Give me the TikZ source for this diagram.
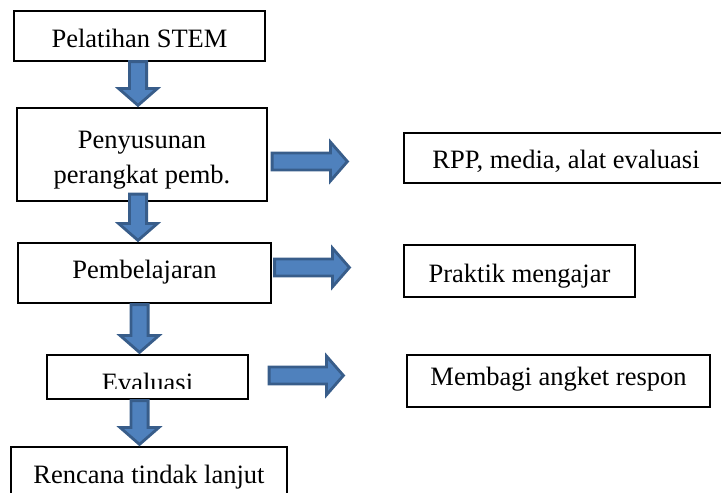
\documentclass[tikz,border=0pt]{standalone}
\usepackage{fontspec}
\setmainfont{Liberation Serif}
\usetikzlibrary{calc}
\definecolor{arrowfill}{HTML}{4F81BD}
\definecolor{arrowline}{HTML}{385D8A}

\begin{document}
\begin{tikzpicture}[x=1pt, y=-1pt,
    every node/.style={font=\fontsize{26.5pt}{35pt}\selectfont},
    box/.style={draw, line width=1.2pt, inner sep=0pt, anchor=base},
    blockdown/.style={fill=arrowfill, draw=arrowline, line width=2.8pt, to path={
        let \p1=(\tikztostart), \p2=(\tikztotarget) in
        (\x1-8.6pt,\y1) -- (\x1+8.6pt,\y1) -- (\x1+8.6pt,\y2+19pt) -- (\x1+19.5pt,\y2+19pt)
        -- (\x1,\y2+2pt) -- (\x1-19.5pt,\y2+19pt) -- (\x1-8.6pt,\y2+19pt) -- cycle}},
    blockright/.style={fill=arrowfill, draw=arrowline, line width=2.8pt, to path={
        let \p1=(\tikztostart), \p2=(\tikztotarget) in
        (\x1,\y1+8.5pt) -- (\x2-19pt,\y1+8.5pt) -- (\x2-19pt,\y1+19.5pt) -- (\x2-2pt,\y1)
        -- (\x2-19pt,\y1-19.5pt) -- (\x2-19pt,\y1-8.5pt) -- (\x1,\y1-8.5pt) -- cycle}}]
    \useasboundingbox (0,0) rectangle (721,493);
    \clip (0,0) rectangle (721,493);

    % alur kiri
    \node[box, minimum width=251pt, text height=36pt, text depth=14pt] (pel) at (139.5,47) {Pelatihan STEM};
    \node[box, anchor=center, align=center, minimum width=250pt, minimum height=93pt] (peny) at (142,154.5) {\rule{0pt}{28pt}Penyusunan\\perangkat pemb.};
    \node[box, minimum width=253pt, text height=35pt, text depth=25pt] (pemb) at (144.5,278) {Pembelajaran};
    \node[box, minimum width=201pt, text height=36.5pt, text depth=7.5pt] (eval) at (147.5,391.5) {};
    \node[box, minimum width=276pt, text height=36pt, text depth=14pt] (renc) at (149,483) {Rencana tindak lanjut};

    % teks evaluasi terpotong
    \begin{scope}
        \clip (eval.north west) rectangle ($(eval.south east)+(0,-11)$);
        \node[anchor=base] (evaltext) at (eval.base) {Evaluasi};
    \end{scope}

    % kotak kanan
    \node[box, minimum width=324pt, text height=35pt, text depth=15pt] (rpp) at (566,168) {RPP, media, alat evaluasi};
    \node[box, minimum width=231pt, text height=37pt, text depth=15pt] (prak) at (519.5,282) {Praktik mengajar};
    \node[box, minimum width=303pt, text height=30pt, text depth=22pt] (memb) at (558.5,385) {Membagi angket respon};

    % panah ke bawah
    \draw[blockdown] ($(pel.south)+(-1.5,0)$) to (peny.north);
    \draw[blockdown] ($(peny.south)+(-4,-7.5)$) to (pemb.north);
    \draw[blockdown] ($(pemb.south)+(-5,1)$) to (eval.north);
    \draw[blockdown] ($(eval.south)+(-8,1)$) to (renc.north);

    % panah ke kanan
    \draw[blockright] ($(peny.east)+(4.5,7)$) to ($(rpp.west)+(-54,0)$);
    \draw[blockright] ($(pemb.east)+(3,-5.5)$) to ($(prak.west)+(-52,0)$);
    \draw[blockright] ($(eval.east)+(20.5,-1.5)$) to ($(memb.west)+(-61,0)$);
\end{tikzpicture}
\end{document}
